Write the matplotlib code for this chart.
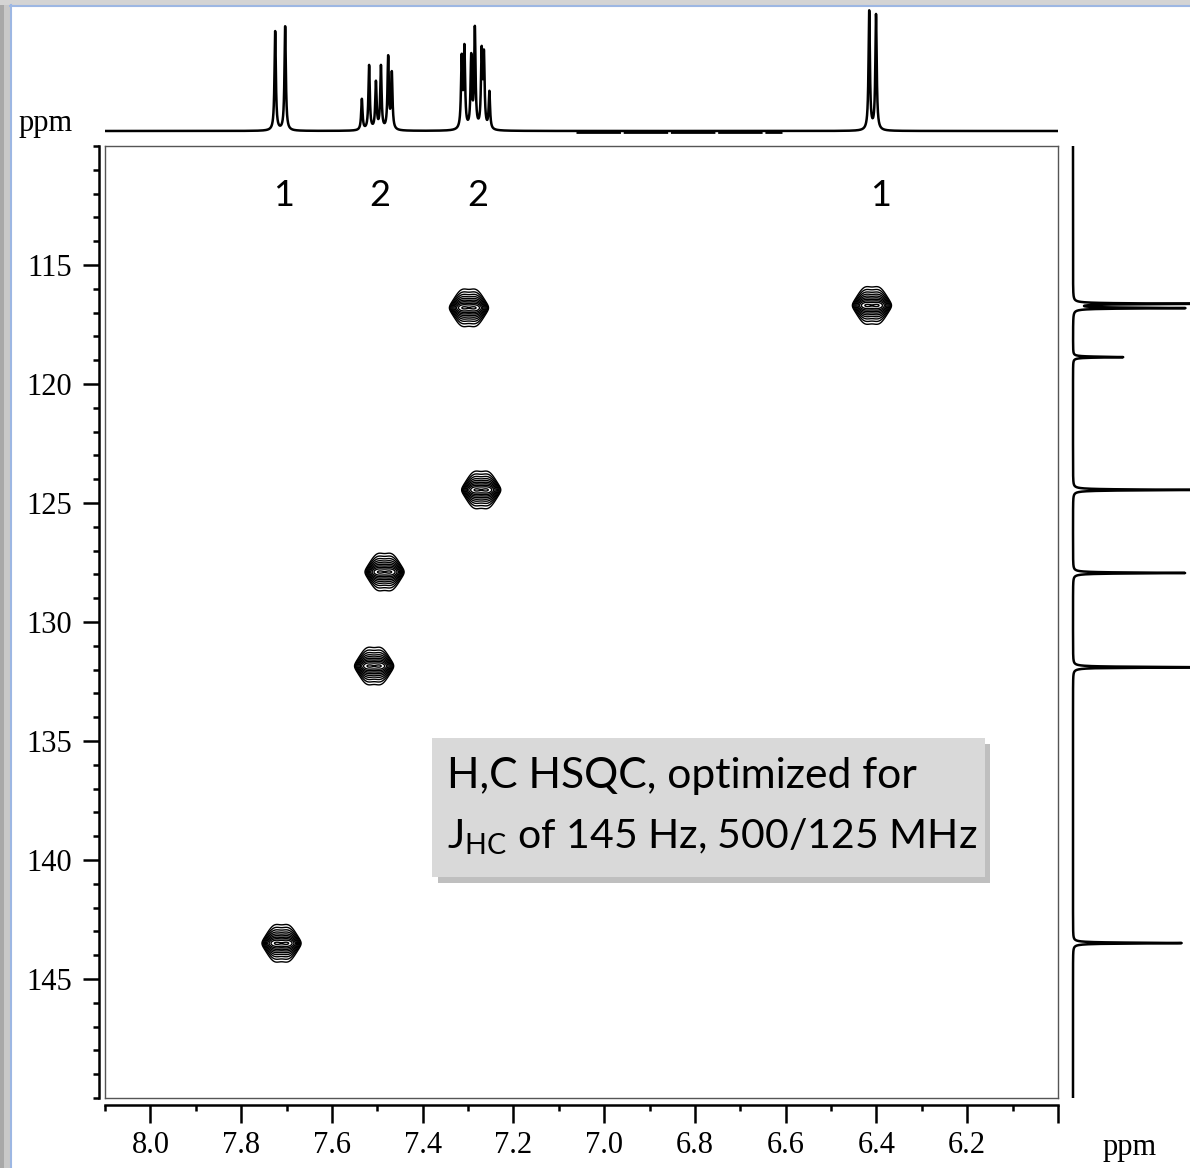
import numpy as np
import matplotlib.pyplot as plt
from matplotlib.patches import Rectangle
from matplotlib.lines import Line2D
from matplotlib.ticker import MultipleLocator

plt.rcParams['mathtext.fontset'] = 'custom'
plt.rcParams['mathtext.rm'] = 'Lato'

# 1H projection (top): line positions in ppm and relative heights
h_lines = [7.725, 7.703,
           7.534, 7.518, 7.503, 7.492, 7.476, 7.468,
           7.314, 7.308, 7.293, 7.285, 7.270, 7.265, 7.253,
           6.416, 6.401]
h_heights = [0.80, 0.84,
             0.25, 0.52, 0.38, 0.51, 0.58, 0.45,
             0.56, 0.64, 0.57, 0.80, 0.60, 0.57, 0.30,
             0.96, 0.93]
noise_band = [7.062, 6.608]

# 13C projection (right)
c_lines = [116.63, 116.81, 118.87, 124.45, 127.94, 131.90, 143.49]
c_heights = [1.05, 0.95, 0.43, 1.05, 0.97, 1.05, 0.93]

# HSQC cross peaks: 13C shift and the 1H lines of each
cross_c = [116.8, 116.7, 124.45, 127.9, 131.85, 143.5]
cross_h = [[7.312, 7.284],
           [6.424, 6.396],
           [7.285, 7.257],
           [7.498, 7.470],
           [7.521, 7.493],
           [7.725, 7.697]]

# integration labels
label_text = ['1', '2', '2', '1']
label_ppm = [7.706, 7.494, 7.278, 6.392]

W, H = 1190, 1168
fig = plt.figure(figsize=(W / 100, H / 100), dpi=100)


def fr(x0, y0, x1, y1):
    return [x0 / W, 1 - y1 / H, (x1 - x0) / W, (y1 - y0) / H]


# slide frame
fig.add_artist(Rectangle((0, 0), 10 / W, 1, transform=fig.transFigure, fc='#c8c8c8', ec='none'))
fig.add_artist(Rectangle((0, 0), 4 / W, 1, transform=fig.transFigure, fc='#a8a8a8', ec='none'))
fig.add_artist(Rectangle((0, 1 - 5 / H), 1, 5 / H, transform=fig.transFigure, fc='#d4d4d4', ec='none'))
fig.add_artist(Line2D([10.5 / W, 10.5 / W], [0, 1 - 5 / H], transform=fig.transFigure, color='#9db7e3', lw=1.5))
fig.add_artist(Line2D([10 / W, 1], [1 - 5.5 / H, 1 - 5.5 / H], transform=fig.transFigure, color='#9db7e3', lw=1.5))

# main 2D box
ax = fig.add_axes(fr(105, 146, 1058, 1098))
ax.set_xlim(8.1, 6.0)
ax.set_ylim(150, 110)
ax.set_xticks([])
ax.set_yticks([])
for s in ax.spines.values():
    s.set_color('#555555')
    s.set_linewidth(1.0)

for yc, lines in zip(cross_c, cross_h):
    xc = np.mean(lines)
    xs = np.linspace(xc - 0.08, xc + 0.08, 401)
    ys = np.linspace(yc - 1.5, yc + 1.5, 361)
    X, Y = np.meshgrid(xs, ys)
    Z = np.zeros_like(X)
    for l in lines:
        Z += np.exp(-0.5 * ((X - l) / 0.0125) ** 2)
    Z *= 1 / (1 + ((Y - yc) / 0.2) ** 2)
    Z /= Z.max()
    ax.contour(X, Y, Z, levels=np.geomspace(0.06, 0.95, 10), colors='black', linewidths=1.0)

for t, p in zip(label_text, label_ppm):
    ax.text(p, 112.06, t, ha='center', va='center', fontsize=26, family='Lato')

# info box
ax.add_patch(Rectangle((0.349, 0.226), 0.580, 0.146, transform=ax.transAxes,
                       fc='#8c8c8c', ec='none', alpha=0.55))
ax.add_patch(Rectangle((0.343, 0.232), 0.580, 0.146, transform=ax.transAxes,
                       fc='#d9d9d9', ec='none'))
ax.text(0.359, 0.338, 'H,C HSQC, optimized for', transform=ax.transAxes,
        ha='left', va='center', fontsize=30.7, family='Lato')
ax.text(0.359, 0.274, r'J$_\mathrm{HC}$ of 145 Hz, 500/125 MHz', transform=ax.transAxes,
        ha='left', va='center', fontsize=29.5, family='Lato')

# ticked axes offset from the box
axt = fig.add_axes(fr(105, 146, 1058, 1098))
axt.patch.set_visible(False)
axt.set_xlim(8.1, 6.0)
axt.set_ylim(150, 110)
axt.spines['top'].set_visible(False)
axt.spines['right'].set_visible(False)
axt.spines['left'].set_position(('outward', 4.3))
axt.spines['bottom'].set_position(('outward', 5.0))
for s in ['left', 'bottom']:
    axt.spines[s].set_linewidth(1.8)
xmaj = [8.0, 7.8, 7.6, 7.4, 7.2, 7.0, 6.8, 6.6, 6.4, 6.2, 6.0]
axt.set_xticks(xmaj)
axt.set_xticklabels(['%.1f' % v for v in xmaj[:-1]] + [''])
axt.xaxis.set_minor_locator(MultipleLocator(0.1))
ymaj = [115, 120, 125, 130, 135, 140, 145]
axt.set_yticks(ymaj)
axt.set_yticklabels([str(v) for v in ymaj])
axt.yaxis.set_minor_locator(MultipleLocator(1))
axt.tick_params(axis='both', which='major', direction='out', width=1.8, length=12,
                labelsize=22, labelfontfamily='Liberation Serif')
axt.tick_params(axis='x', which='major', length=13, pad=6)
axt.tick_params(axis='y', which='major', length=11.5, pad=8)
axt.tick_params(axis='both', which='minor', direction='out', width=1.8, length=4.3)

# 1H projection
axh = fig.add_axes(fr(105, 0, 1058, 140))
axh.axis('off')
xh = np.linspace(8.1, 6.0, 14000)
yh = np.zeros_like(xh)
for c, h in zip(h_lines, h_heights):
    yh += h / (1 + ((xh - c) / 0.0018) ** 2)
axh.plot(xh, yh, color='black', lw=1.8)
axh.plot(noise_band, [-0.01, -0.01], color='black', lw=2.0, dashes=(16, 1))
axh.set_xlim(8.1, 6.0)
axh.set_ylim(-0.0726, 1.056)

# 13C projection
axc = fig.add_axes(fr(1062, 146, 1190, 1098))
axc.axis('off')
yc_ = np.linspace(110, 150, 8000)
xc_ = np.zeros_like(yc_)
for c, h in zip(c_lines, c_heights):
    xc_ += h / (1 + ((yc_ - c) / 0.02) ** 2)
axc.plot(xc_, yc_, color='black', lw=1.8)
axc.set_ylim(150, 110)
axc.set_xlim(-0.094, 1.0)

fig.text(46 / W, 1 - 124 / H, 'ppm', ha='center', va='center', fontsize=22, family='Liberation Serif')
fig.text(1130 / W, 1 - 1148 / H, 'ppm', ha='center', va='center', fontsize=22, family='Liberation Serif')

fig.savefig('out.png', dpi=100)
